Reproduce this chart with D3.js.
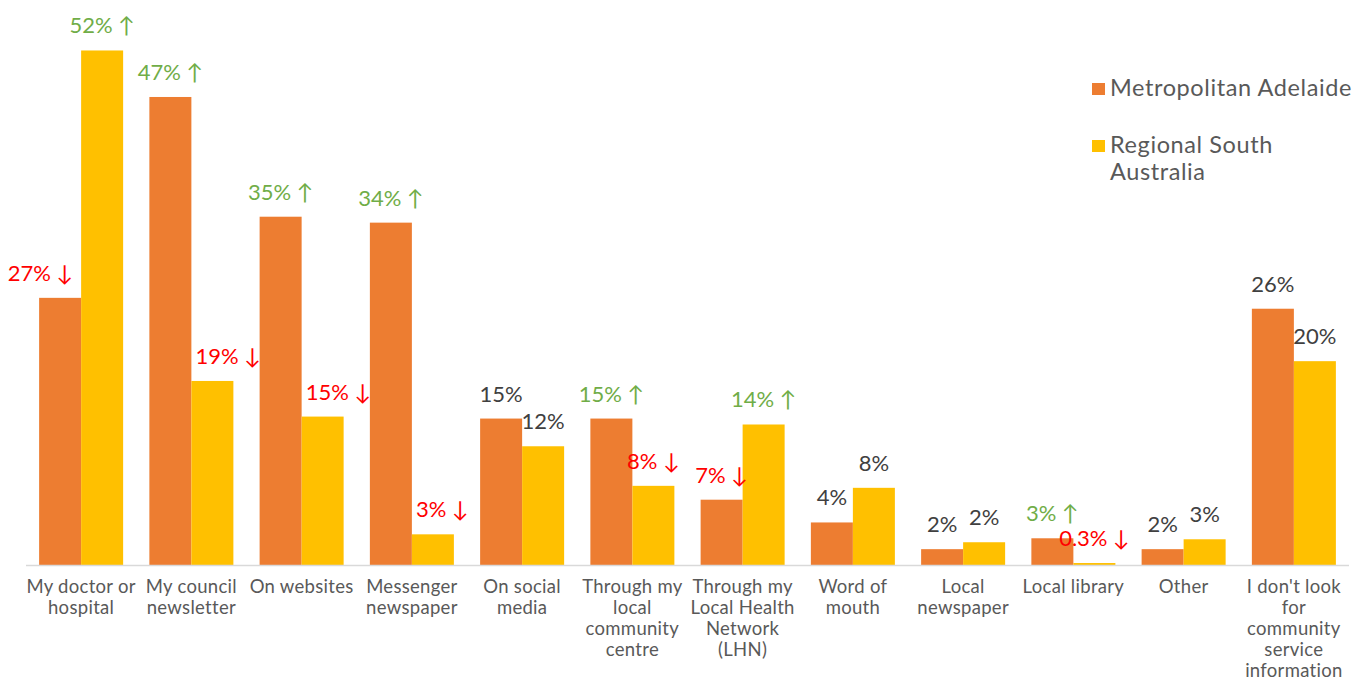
<!DOCTYPE html>
<html>
<head>
<meta charset="utf-8">
<script src="https://cdn.jsdelivr.net/npm/d3@7"></script>
<style>
  body { margin: 0; background: #fff; }
  svg { display: block; font-family: Lato, "Open Sans", sans-serif; }
</style>
</head>
<body>
<svg id="chart" width="1372" height="682"></svg>
<script>
  // categories, one entry per line of the axis label
  var categories = [
    ["My doctor or", "hospital"],
    ["My council", "newsletter"],
    ["On websites"],
    ["Messenger", "newspaper"],
    ["On social", "media"],
    ["Through my", "local", "community", "centre"],
    ["Through my", "Local Health", "Network", "(LHN)"],
    ["Word of", "mouth"],
    ["Local", "newspaper"],
    ["Local library"],
    ["Other"],
    ["I don't look", "for", "community", "service", "information"]
  ];
  var seriesNames = [["Metropolitan Adelaide"], ["Regional South", "Australia"]];

  // values (%)
  var metro = [27, 47.3, 35.2, 34.6, 14.8, 14.8, 6.6, 4.3, 1.6, 2.7, 1.6, 25.9];
  var regional = [52, 18.6, 15, 3.1, 12, 8, 14.2, 7.8, 2.3, 0.2, 2.6, 20.6];

  // printed labels and change marks ("up", "down" or "")
  var metroLabels = ["27%", "47%", "35%", "34%", "15%", "15%", "7%", "4%", "2%", "3%", "2%", "26%"];
  var regionalLabels = ["52%", "19%", "15%", "3%", "12%", "8%", "14%", "8%", "2%", "0.3%", "3%", "20%"];
  var metroTrend = ["down", "up", "up", "up", "", "up", "down", "", "", "up", "", ""];
  var regionalTrend = ["up", "down", "down", "down", "", "down", "up", "", "", "down", "", ""];

  var colors = ["#ED7D31", "#FFC000"];
  var trendColor = { up: "#70AD47", down: "#FF0000", "": "#404040" };
  var arrows = { up: " \u2191", down: " \u2193", "": "" };

  var svg = d3.select("#chart");

  var x = d3.scaleBand()
    .domain(d3.range(categories.length))
    .range([26, 1349])
    .paddingInner(0.238)
    .paddingOuter(0.119);

  var xs = d3.scaleBand().domain([0, 1]).range([0, x.bandwidth()]);

  var y = d3.scaleLinear().domain([0, 57]).range([565, 1]);

  // build flat list of bars
  var bars = [];
  categories.forEach(function(c, i) {
    bars.push({ i: i, s: 0, v: metro[i], other: regional[i], label: metroLabels[i], trend: metroTrend[i] });
    bars.push({ i: i, s: 1, v: regional[i], other: metro[i], label: regionalLabels[i], trend: regionalTrend[i] });
  });

  svg.append("g").selectAll("rect")
    .data(bars)
    .enter().append("rect")
      .attr("x", function(d) { return x(d.i) + xs(d.s); })
      .attr("y", function(d) { return y(d.v); })
      .attr("width", xs.bandwidth())
      .attr("height", function(d) { return y(0) - y(d.v); })
      .attr("fill", function(d) { return colors[d.s]; });

  // axis line
  svg.append("line")
    .attr("x1", 26).attr("x2", 1349)
    .attr("y1", y(0) + 0.5).attr("y2", y(0) + 0.5)
    .attr("stroke", "#D9D9D9")
    .attr("stroke-width", 1.5);

  // data labels; move a label sideways when the bar next to it is much taller
  var blocked = function(d) { return d.other - d.v > 10; };

  svg.append("g").selectAll("text")
    .data(bars)
    .enter().append("text")
      .attr("x", function(d) {
        var bx = x(d.i) + xs(d.s);
        if (!blocked(d)) return bx + xs.bandwidth() / 2;
        return d.s === 0 ? bx + xs.bandwidth() - 8 : bx + 4;
      })
      .attr("text-anchor", function(d) {
        if (!blocked(d)) return "middle";
        return d.s === 0 ? "end" : "start";
      })
      .attr("y", function(d) { return y(d.v) - 17; })
      .attr("font-size", 22)
      .attr("fill", function(d) { return trendColor[d.trend]; })
      .text(function(d) { return d.label + arrows[d.trend]; });

  // category labels
  var cat = svg.append("g").selectAll("text")
    .data(categories)
    .enter().append("text")
      .attr("text-anchor", "middle")
      .attr("font-size", 18.5)
      .attr("letter-spacing", 0.3)
      .attr("fill", "#595959");

  cat.selectAll("tspan")
    .data(function(d, i) { return d.map(function(t) { return { t: t, i: i }; }); })
    .enter().append("tspan")
      .attr("x", function(d) { return x(d.i) + x.bandwidth() / 2; })
      .attr("y", function(d, j) { return 593 + j * 21; })
      .text(function(d) { return d.t; });

  // legend
  var legend = svg.append("g");
  seriesNames.forEach(function(lines, k) {
    var top = 83 + k * 57;
    legend.append("rect")
      .attr("x", 1092).attr("y", top)
      .attr("width", 13).attr("height", 12)
      .attr("fill", colors[k]);
    legend.append("text")
      .attr("font-size", 23.5)
      .attr("letter-spacing", 0.6)
      .attr("fill", "#595959")
      .selectAll("tspan")
      .data(lines)
      .enter().append("tspan")
        .attr("x", 1110)
        .attr("y", function(d, j) { return top + 13 + j * 27; })
        .text(function(d) { return d; });
  });
</script>
</body>
</html>
